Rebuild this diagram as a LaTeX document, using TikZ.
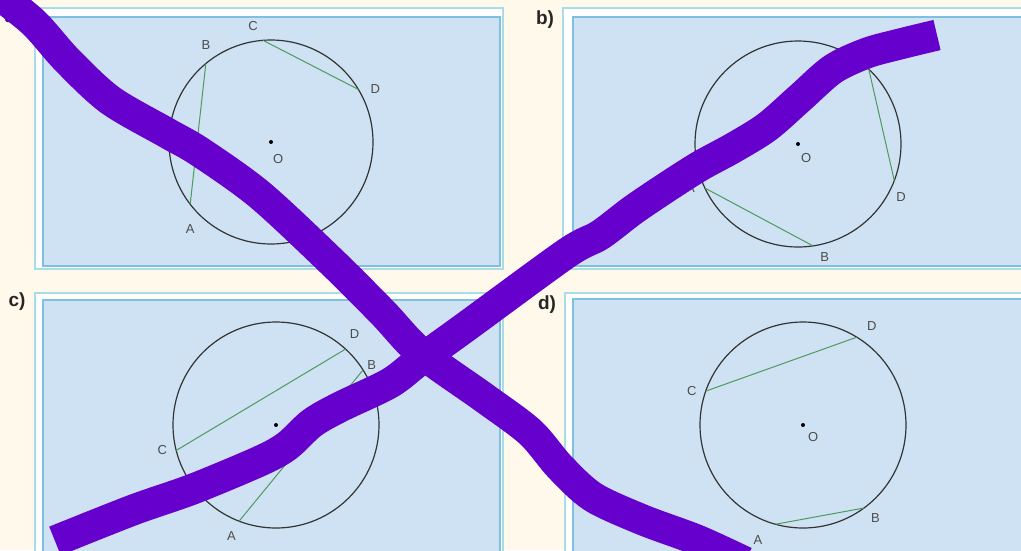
\documentclass[tikz,border=0pt]{standalone}
\usepackage{fontspec}
\setmainfont{Liberation Sans}
\usetikzlibrary{positioning}

\definecolor{cream}{HTML}{FFF9EB}
\definecolor{panelblue}{HTML}{CFE2F3}
\definecolor{edgeblue}{HTML}{7FBFE0}
\definecolor{edgepale}{HTML}{A8DCE8}
\definecolor{chordgreen}{HTML}{4E9A5E}
\definecolor{markpurple}{HTML}{6600CC}

\begin{document}
\begin{tikzpicture}[x=1pt, y=-1pt,
  every node/.style={font=\fontsize{13}{13}\selectfont, text=black!70, inner sep=0pt},
  panelframe/.style={draw=edgepale, fill=white, line width=1.5pt},
  panelsheet/.style={draw=edgeblue, fill=panelblue, line width=1.5pt},
  circ/.style={draw=black!80, line width=1.2pt},
  chord/.style={draw=chordgreen, line width=1pt},
  dot/.style={circle, fill=black, minimum size=4pt},
  tag/.style={font=\bfseries\fontsize{19}{19}\selectfont, text=black!85},
  scribble/.style={draw=markpurple, line width=31pt, line join=round}
]
\useasboundingbox (0,0) rectangle (1021,550);
\fill[cream] (0,0) rectangle (1021,550);

% Panels
\draw[panelframe] (35,8) rectangle (503,269);
\draw[panelsheet] (43,17) rectangle (500,266);
\draw[panelframe] (563,8) rectangle (1030,269);
\draw[panelsheet] (573,17) rectangle (1030,266);
\draw[panelframe] (35,293) rectangle (503,560);
\draw[panelsheet] (43,300) rectangle (500,560);
\draw[panelframe] (565,293) rectangle (1030,560);
\draw[panelsheet] (573,299) rectangle (1030,560);

% Panel a
\coordinate (aO) at (271,142);
\path (aO) ++(142.4:102) coordinate (aA);
\path (aO) ++(230.3:102) coordinate (aB);
\path (aO) ++(265.5:102) coordinate (aC);
\path (aO) ++(329:102) coordinate (aD);
\draw[circ] (aO) circle[radius=102];
\draw[chord] (aA) -- (aB);
\draw[chord] (aC) -- (aD);
\node[dot] (aOdot) at (aO) {};
\node[below right=12pt and 2pt of aO] (aOl) {O};
\node[below=20pt of aA] (aAl) {A};
\node[above=14pt of aB] (aBl) {B};
\node[above left=9pt and 5pt of aC] (aCl) {C};
\node[right=12pt of aD] (aDl) {D};
\node[tag] (ta) at (13,18) {a)};

% Panel b
\coordinate (bO) at (798,144);
\path (bO) ++(154.7:103) coordinate (bA);
\path (bO) ++(81.6:103) coordinate (bB);
\path (bO) ++(313.4:103) coordinate (bC);
\path (bO) ++(20.8:103) coordinate (bD);
\draw[circ] (bO) circle[radius=103];
\draw[chord] (bA) -- (bB);
\draw[chord] (bC) -- (bD);
\node[dot] (bOdot) at (bO) {};
\node[below right=9pt and 3pt of bO] (bOl) {O};
\node[left=10pt of bA] (bAl) {A};
\node[below right=6pt and 7pt of bB] (bBl) {B};
\node[below right=12pt and 2pt of bD] (bDl) {D};
\node[tag] (tb) at (545,20) {b)};

% Panel c
\coordinate (cO) at (276,425);
\path (cO) ++(111:103) coordinate (cA);
\path (cO) ++(327.7:103) coordinate (cB);
\path (cO) ++(165.7:103) coordinate (cC);
\path (cO) ++(312.5:103) coordinate (cD);
\draw[circ] (cO) circle[radius=103];
\draw[chord] (cA) -- (cB);
\draw[chord] (cC) -- (cD);
\node[dot] (cOdot) at (cO) {};
\node[below left=10pt and 3pt of cA] (cAl) {A};
\node[above right=0pt and 4pt of cB] (cBl) {B};
\node[left=9pt of cC] (cCl) {C};
\node[above right=10pt and 4pt of cD] (cDl) {D};
\node[tag] (tc) at (17,302) {c)};

% Panel d
\coordinate (dO) at (803,425);
\path (dO) ++(105.5:103) coordinate (dA);
\path (dO) ++(53.7:103) coordinate (dB);
\path (dO) ++(199.2:103) coordinate (dC);
\path (dO) ++(301.5:103) coordinate (dD);
\draw[circ] (dO) circle[radius=103];
\draw[chord] (dA) -- (dB);
\draw[chord] (dC) -- (dD);
\node[dot] (dOdot) at (dO) {};
\node[below right=7pt and 5pt of dO] (dOl) {O};
\node[below left=11pt and 13pt of dA] (dAl) {A};
\node[below right=5pt and 7pt of dB] (dBl) {B};
\node[left=9pt of dC] (dCl) {C};
\node[above right=6pt and 10pt of dD] (dDl) {D};
\node[tag] (td) at (547,305) {d)};

% Crossing strokes
\draw[scribble] plot[smooth, tension=0.5] coordinates {(-10,-12) (33,22) (67,60) (110,100) (167,133) (200,152) (260,195) (333,263) (383,313) (420,352) (483,397) (530,432) (560,467) (593,497) (643,520) (697,540) (745,562)};
\draw[scribble] plot[smooth, tension=0.5] coordinates {(55,541) (133,510) (193,489) (260,461) (287,446) (312,423) (340,407) (390,383) (420,360) (467,326) (567,253) (600,235) (633,210) (667,187) (700,166) (733,148) (767,127) (800,98) (833,69) (867,53) (900,44) (937,35)};
\end{tikzpicture}
\end{document}
